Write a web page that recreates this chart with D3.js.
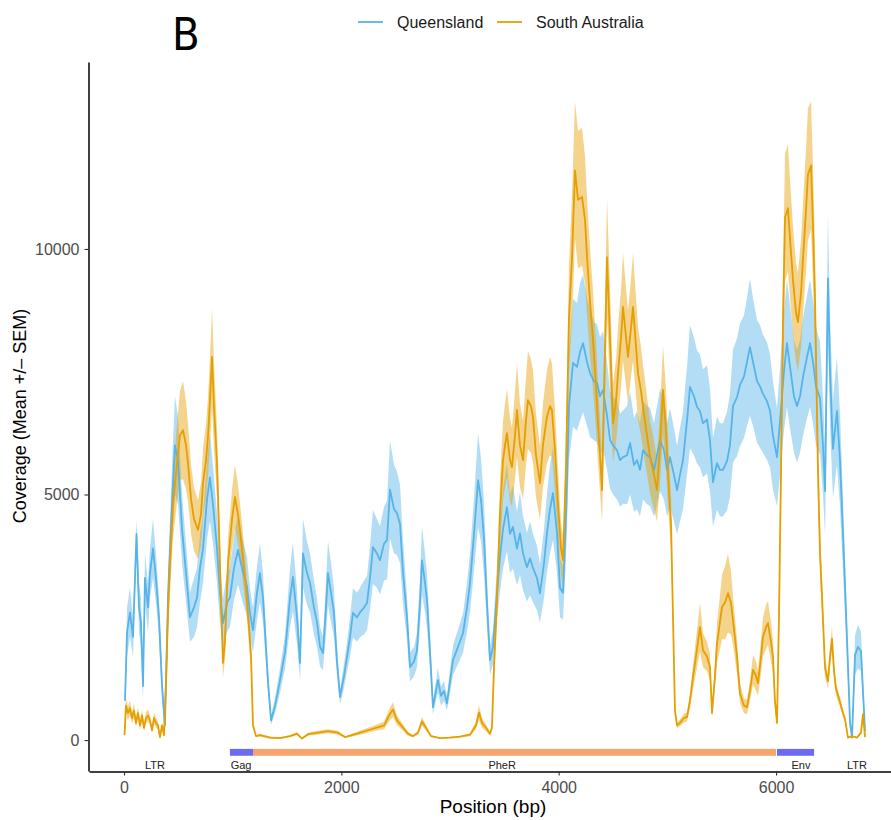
<!DOCTYPE html>
<html lang="en">
<head>
    <meta charset="UTF-8">
    <title>Coverage B</title>
    <script src="https://d3js.org/d3.v7.min.js"></script>
    <style>
        body {
            margin: 0;
            background: #fff;
            font-family: "Liberation Sans", Arial, sans-serif;
        }
        svg {
            display: block;
        }
    </style>
</head>
<body>

    <div id="container"></div>

    <script>

        // ---- data (position in bp, coverage) ----

        // Queensland
        const qldPos = [
            9, 28, 55, 83, 115, 138, 156, 175, 193, 221,
            239, 267, 294, 322, 350, 377, 405, 442, 469, 497,
            534, 571, 607, 644, 672, 699, 727, 764, 791, 819,
            856, 883, 911, 948, 975, 1012, 1049, 1086, 1132, 1159,
            1187, 1224, 1251, 1279, 1298, 1325, 1353, 1390, 1436, 1482,
            1528, 1555, 1592, 1620, 1647, 1684, 1712, 1748, 1776, 1804,
            1831, 1859, 1877, 1905, 1932, 1960, 1988, 2024, 2052, 2080,
            2107, 2144, 2172, 2209, 2236, 2264, 2291, 2328, 2356, 2393,
            2420, 2448, 2485, 2512, 2540, 2568, 2604, 2632, 2669, 2696,
            2724, 2742, 2770, 2788, 2816, 2843, 2871, 2889, 2917, 2945,
            2972, 3000, 3028, 3074, 3120, 3156, 3184, 3221, 3258, 3285,
            3313, 3340, 3368, 3396, 3432, 3460, 3488, 3524, 3552, 3579,
            3616, 3644, 3672, 3708, 3736, 3764, 3800, 3828, 3865, 3892,
            3920, 3948, 3985, 4012, 4040, 4067, 4095, 4132, 4169, 4196,
            4224, 4261, 4289, 4326, 4353, 4380, 4408, 4445, 4473, 4500,
            4537, 4565, 4592, 4629, 4657, 4693, 4721, 4748, 4776, 4813,
            4841, 4877, 4905, 4933, 4969, 4997, 5024, 5061, 5089, 5116,
            5144, 5181, 5208, 5245, 5273, 5300, 5328, 5365, 5392, 5420,
            5457, 5484, 5512, 5549, 5576, 5604, 5641, 5668, 5705, 5733,
            5760, 5788, 5825, 5852, 5880, 5917, 5945, 5972, 6009, 6037,
            6073, 6101, 6129, 6165, 6193, 6221, 6248, 6285, 6313, 6340,
            6368, 6405, 6432, 6451, 6478, 6497, 6524, 6561, 6589, 6616,
            6653, 6681, 6699, 6727, 6754, 6782, 6800, 6819
        ];
        const qldMean = [
            800, 2200, 2600, 2100, 4200, 2700, 2400, 1100, 3300, 2700,
            3400, 3900, 3300, 2500, 1100, 300, 2900, 4800, 6000, 5700,
            4300, 3400, 2500, 2700, 2900, 3500, 3900, 4900, 5350, 4800,
            3900, 3000, 2380, 2800, 2900, 3500, 3870, 3500, 3120, 2600,
            2240, 3000, 3400, 2900, 2200, 1200, 400, 700, 1220, 1800,
            2900, 3320, 2500, 1570, 3800, 3400, 3200, 2700, 2400, 1900,
            1770, 2700, 3400, 3000, 2600, 1600, 880, 1300, 1690, 2100,
            2590, 2500, 2600, 2700, 2790, 3300, 3930, 3800, 3660, 4000,
            4070, 5100, 4700, 4620, 4400, 3400, 2500, 1490, 1600, 1830,
            2800, 3660, 3200, 2850, 1800, 670, 1000, 1220, 900, 1000,
            750, 1200, 1630, 1900, 2180, 2700, 3200, 4200, 5290, 4900,
            4100, 2800, 1630, 1900, 3000, 3730, 4300, 4740, 4200, 4340,
            3900, 4210, 3800, 3520, 3700, 3500, 3300, 2990, 3600, 4210,
            4700, 5030, 4200, 3100, 3000, 4500, 6800, 7680, 7600, 7900,
            8080, 7700, 7470, 7300, 7270, 7000, 7130, 6600, 6110, 6000,
            5900, 5700, 5760, 5800, 6050, 5600, 5700, 5500, 5900, 5800,
            5760, 5500, 5800, 6110, 5900, 5500, 5760, 5400, 5090, 5400,
            5700, 6500, 7190, 7000, 6780, 6700, 6450, 6530, 6110, 5250,
            5640, 5500, 5500, 5680, 6000, 6800, 6980, 7230, 7400, 7700,
            8000, 7700, 7310, 7200, 7050, 6900, 6700, 6200, 5760, 6500,
            7500, 8080, 7600, 7000, 6800, 7000, 7390, 7800, 8080, 7700,
            7200, 6960, 6000, 5070, 9400, 7500, 5930, 6700, 5680, 4210,
            2060, 350, 50, 1730, 1900, 1810, 1000, 180
        ];
        const qldSem = [
            200, 500, 500, 400, 300, 500, 500, 300, 500, 500,
            500, 600, 500, 400, 300, 100, 500, 800, 1000, 900,
            700, 600, 500, 600, 600, 700, 700, 800, 900, 800,
            700, 600, 500, 600, 600, 650, 700, 650, 600, 500,
            450, 550, 600, 500, 400, 250, 100, 150, 250, 350,
            600, 700, 550, 350, 700, 650, 600, 550, 500, 400,
            350, 550, 650, 600, 500, 300, 150, 250, 300, 400,
            500, 500, 500, 550, 550, 650, 750, 700, 700, 750,
            800, 1000, 900, 850, 800, 650, 450, 300, 300, 350,
            500, 700, 600, 550, 350, 150, 200, 250, 200, 200,
            150, 250, 300, 350, 400, 500, 600, 750, 950, 850,
            750, 500, 300, 350, 550, 700, 800, 900, 800, 850,
            750, 850, 750, 700, 750, 700, 650, 600, 700, 800,
            900, 950, 800, 600, 550, 800, 1100, 1300, 1300, 1400,
            1400, 1300, 1300, 1200, 1200, 1200, 1200, 1100, 1000, 1000,
            1000, 950, 950, 1000, 1050, 950, 1000, 950, 1000, 1000,
            1000, 950, 1000, 1050, 1000, 950, 1000, 950, 900, 950,
            1000, 1100, 1250, 1200, 1150, 1150, 1100, 1100, 1050, 900,
            950, 950, 950, 1000, 1050, 1150, 1200, 1250, 1250, 1300,
            1400, 1300, 1250, 1250, 1200, 1200, 1150, 1100, 1000, 1100,
            1200, 1300, 1250, 1150, 1150, 1150, 1200, 1250, 1300, 1250,
            1200, 1150, 1000, 900, 1300, 1100, 1000, 1100, 950, 750,
            400, 100, 20, 400, 450, 400, 250, 50
        ];

        // South Australia
        const saPos = [
            5, 18, 37, 55, 74, 92, 110, 129, 147, 166,
            184, 202, 221, 239, 258, 276, 294, 313, 331, 350,
            368, 387, 405, 423, 451, 488, 515, 543, 571, 589,
            617, 644, 681, 709, 727, 755, 773, 791, 810, 828,
            856, 874, 893, 911, 929, 957, 994, 1021, 1049, 1067,
            1095, 1123, 1150, 1169, 1187, 1215, 1251, 1344, 1436, 1528,
            1592, 1638, 1693, 1785, 1877, 1969, 2034, 2098, 2172, 2245,
            2319, 2393, 2439, 2475, 2512, 2558, 2613, 2659, 2705, 2742,
            2779, 2825, 2908, 3000, 3092, 3184, 3239, 3267, 3294, 3331,
            3368, 3386, 3405, 3432, 3460, 3488, 3506, 3524, 3552, 3570,
            3598, 3616, 3644, 3672, 3699, 3717, 3745, 3764, 3791, 3828,
            3855, 3892, 3920, 3938, 3966, 3994, 4021, 4040, 4067, 4095,
            4123, 4150, 4178, 4215, 4242, 4261, 4289, 4316, 4344, 4362,
            4380, 4399, 4417, 4445, 4473, 4500, 4528, 4546, 4574, 4592,
            4620, 4638, 4666, 4684, 4712, 4730, 4758, 4776, 4813, 4841,
            4877, 4905, 4933, 4960, 4988, 5006, 5034, 5052, 5070, 5089,
            5116, 5153, 5181, 5208, 5236, 5263, 5300, 5328, 5365, 5392,
            5411, 5438, 5457, 5484, 5503, 5531, 5558, 5585, 5604, 5641,
            5668, 5705, 5733, 5760, 5788, 5816, 5834, 5862, 5880, 5908,
            5926, 5954, 5972, 5990, 6009, 6027, 6046, 6064, 6083, 6110,
            6129, 6156, 6184, 6202, 6230, 6248, 6276, 6294, 6322, 6340,
            6359, 6386, 6405, 6423, 6451, 6478, 6497, 6515, 6534, 6552,
            6589, 6616, 6635, 6662, 6699, 6745, 6782, 6800, 6819
        ];
        const saMean = [
            100, 700, 550, 650, 450, 600, 350, 550, 300, 500,
            250, 450, 500, 400, 200, 450, 350, 300, 60, 300,
            100, 1200, 2600, 3600, 4800, 5640, 6200, 6310, 6000, 5640,
            4900, 4500, 4280, 4600, 5230, 5700, 6170, 6900, 7800, 6800,
            5640, 4300, 2800, 1570, 2000, 3600, 4500, 4950, 4600, 4280,
            3700, 3100, 2300, 1700, 300, 80, 100, 50, 40, 80,
            130, 30, 120, 150, 180, 150, 60, 100, 150, 200,
            250, 300, 500, 620, 400, 280, 130, 80, 150, 380,
            250, 80, 40, 50, 70, 110, 300, 560, 350, 250,
            130, 250, 1500, 2850, 4600, 5700, 6000, 6250, 5700, 5560,
            6200, 6720, 6000, 5700, 6500, 6920, 6800, 6580, 5800, 5230,
            6000, 6580, 6800, 6720, 5900, 4800, 3900, 3660, 5500, 8600,
            9830, 11600, 11000, 11060, 10600, 9830, 8900, 8140, 7200, 6450,
            5800, 5090, 7000, 9830, 8140, 6450, 6900, 7470, 8200, 8820,
            8200, 7800, 8400, 8820, 8000, 7470, 7100, 6780, 6200, 5760,
            5400, 5090, 6000, 7130, 6300, 5430, 4400, 2500, 600, 300,
            350, 450, 470, 800, 1280, 1700, 2300, 1830, 1700, 1490,
            550, 1300, 1970, 2400, 2710, 2800, 2990, 2800, 2440, 1700,
            950, 700, 670, 1000, 1430, 1300, 1160, 1700, 2100, 2300,
            2380, 2000, 1700, 800, 350, 2500, 5500, 8500, 10650, 10830,
            10200, 9370, 8700, 8510, 9100, 9790, 10800, 11520, 11700, 10500,
            8940, 5500, 3800, 2930, 1470, 1200, 1700, 2060, 1400, 1040,
            770, 550, 430, 50, 80, 50, 150, 530, 60
        ];
        const saSem = [
            50, 150, 150, 150, 120, 150, 100, 130, 100, 120,
            80, 120, 120, 100, 60, 110, 100, 80, 20, 80,
            30, 300, 500, 600, 700, 800, 900, 1000, 900, 800,
            700, 650, 600, 650, 700, 750, 800, 900, 1000, 900,
            700, 550, 400, 300, 350, 500, 600, 650, 600, 550,
            500, 400, 350, 250, 60, 20, 30, 20, 15, 20,
            30, 10, 30, 40, 40, 40, 20, 30, 40, 50,
            60, 80, 120, 150, 100, 70, 40, 20, 40, 90,
            60, 20, 10, 15, 20, 30, 80, 150, 100, 70,
            40, 60, 300, 500, 700, 800, 850, 900, 850, 800,
            900, 950, 850, 800, 900, 1000, 950, 950, 850, 750,
            850, 950, 1000, 950, 850, 700, 550, 500, 800, 1100,
            1300, 1400, 1400, 1400, 1300, 1200, 1100, 1000, 900, 800,
            750, 650, 900, 1200, 1000, 800, 850, 950, 1000, 1100,
            1000, 950, 1000, 1100, 1000, 950, 900, 850, 800, 750,
            700, 650, 750, 900, 800, 700, 550, 300, 100, 60,
            70, 90, 90, 150, 250, 350, 500, 350, 300, 280,
            100, 250, 400, 550, 650, 750, 800, 650, 500, 350,
            200, 150, 150, 200, 300, 300, 250, 350, 400, 450,
            450, 400, 350, 150, 60, 400, 800, 1100, 1300, 1300,
            1200, 1100, 1000, 1000, 1100, 1150, 1250, 1350, 1300, 1200,
            1000, 650, 450, 350, 200, 150, 200, 250, 180, 130,
            100, 80, 60, 10, 15, 10, 30, 80, 10
        ];

        const seriesNames = ['Queensland', 'South Australia'];
        const seriesColors = ['#56B4E9', '#E69F00'];

        // genome annotation
        const geneNames = ['Gag', 'PheR', 'Env'];
        const geneStart = [975, 1187, 6009];
        const geneEnd = [1187, 6000, 6350];
        const geneColors = ['#6B6BF2', '#F6A46E', '#6B6BF2'];

        const regionLabels = ['LTR', 'Gag', 'PheR', 'Env', 'LTR'];
        const regionLabelPos = [285, 1077, 3480, 6230, 6745];

        const xTicks = [0, 2000, 4000, 6000];
        const yTicks = [0, 5000, 10000];

        // ---- svg ----
        const width = 891;
        const height = 820;

        const svg = d3.select('#container')
            .append('svg')
            .attr('width', width)
            .attr('height', height);

        const x = d3.scaleLinear()
            .domain([-322, 7058])
            .range([89, 891]);

        const y = d3.scaleLinear()
            .domain([-630, 13806])
            .range([771, 62]);

        // build rows for each series
        const series = [
            { name: seriesNames[0], color: seriesColors[0],
              rows: qldPos.map((p, i) => ({ pos: p, mean: qldMean[i], sem: qldSem[i] })) },
            { name: seriesNames[1], color: seriesColors[1],
              rows: saPos.map((p, i) => ({ pos: p, mean: saMean[i], sem: saSem[i] })) }
        ];

        const ribbon = d3.area()
            .x(d => x(d.pos))
            .y0(d => y(d.mean - d.sem))
            .y1(d => y(d.mean + d.sem));

        const line = d3.line()
            .x(d => x(d.pos))
            .y(d => y(d.mean));

        // ribbons first
        svg.selectAll('path.ribbon')
            .data(series)
            .enter()
            .append('path')
            .attr('class', 'ribbon')
            .attr('d', d => ribbon(d.rows))
            .attr('fill', d => d.color)
            .attr('fill-opacity', 0.45)
            .attr('stroke', 'none');

        // mean lines on top
        svg.selectAll('path.mean')
            .data(series)
            .enter()
            .append('path')
            .attr('class', 'mean')
            .attr('d', d => line(d.rows))
            .attr('fill', 'none')
            .attr('stroke', d => d.color)
            .attr('stroke-width', 1.8)
            .attr('stroke-linejoin', 'round');

        // gene bars
        svg.selectAll('rect.gene')
            .data(geneNames)
            .enter()
            .append('rect')
            .attr('class', 'gene')
            .attr('x', (d, i) => x(geneStart[i]))
            .attr('width', (d, i) => x(geneEnd[i]) - x(geneStart[i]))
            .attr('y', y(-180))
            .attr('height', y(-320) - y(-180))
            .attr('fill', (d, i) => geneColors[i]);

        // region labels
        svg.selectAll('text.region')
            .data(regionLabels)
            .enter()
            .append('text')
            .attr('class', 'region')
            .attr('x', (d, i) => x(regionLabelPos[i]))
            .attr('y', y(-590))
            .attr('text-anchor', 'middle')
            .attr('font-size', 11)
            .attr('fill', '#222')
            .text(d => d);

        // axes
        const xAxis = svg.append('g')
            .attr('transform', 'translate(0,' + 771.5 + ')')
            .call(d3.axisBottom(x).tickValues(xTicks).tickSize(4).tickSizeOuter(0)
                .tickPadding(6).tickFormat(d3.format('d')));

        const yAxis = svg.append('g')
            .attr('transform', 'translate(' + 88.5 + ',0)')
            .call(d3.axisLeft(y).tickValues(yTicks).tickSize(4).tickSizeOuter(0)
                .tickPadding(5).tickFormat(d3.format('d')));

        [xAxis, yAxis].forEach(a => {
            a.select('.domain').attr('stroke', '#000').attr('stroke-width', 1.5);
            a.selectAll('.tick line').attr('stroke', '#333').attr('stroke-width', 1.1);
            a.selectAll('.tick text')
                .attr('fill', '#4D4D4D')
                .attr('font-size', 16)
                .attr('font-family', '"Liberation Sans", Arial, sans-serif');
        });

        // axis titles
        svg.append('text')
            .attr('x', 493)
            .attr('y', 813)
            .attr('text-anchor', 'middle')
            .attr('font-size', 19)
            .attr('fill', '#000')
            .text('Position (bp)');

        svg.append('text')
            .attr('transform', 'translate(26,416) rotate(-90)')
            .attr('text-anchor', 'middle')
            .attr('font-size', 18)
            .attr('fill', '#000')
            .text('Coverage (Mean +/\u2013 SEM)');

        // panel tag
        svg.append('text')
            .attr('x', 172)
            .attr('y', 50)
            .attr('font-size', 45)
            .attr('font-family', '"Liberation Sans Narrow", "DejaVu Sans Condensed", sans-serif')
            .attr('fill', '#000')
            .text('B');

        // legend
        const legendX = [358, 497];
        const legend = svg.selectAll('g.legend')
            .data(series)
            .enter()
            .append('g')
            .attr('class', 'legend')
            .attr('transform', (d, i) => 'translate(' + legendX[i] + ',22)');

        legend.append('line')
            .attr('x1', 0)
            .attr('x2', 25)
            .attr('stroke', d => d.color)
            .attr('stroke-width', 1.8);

        legend.append('text')
            .attr('x', 39)
            .attr('y', 6)
            .attr('font-size', 16)
            .attr('fill', '#1a1a1a')
            .text(d => d.name);

    </script>

</body>
</html>
